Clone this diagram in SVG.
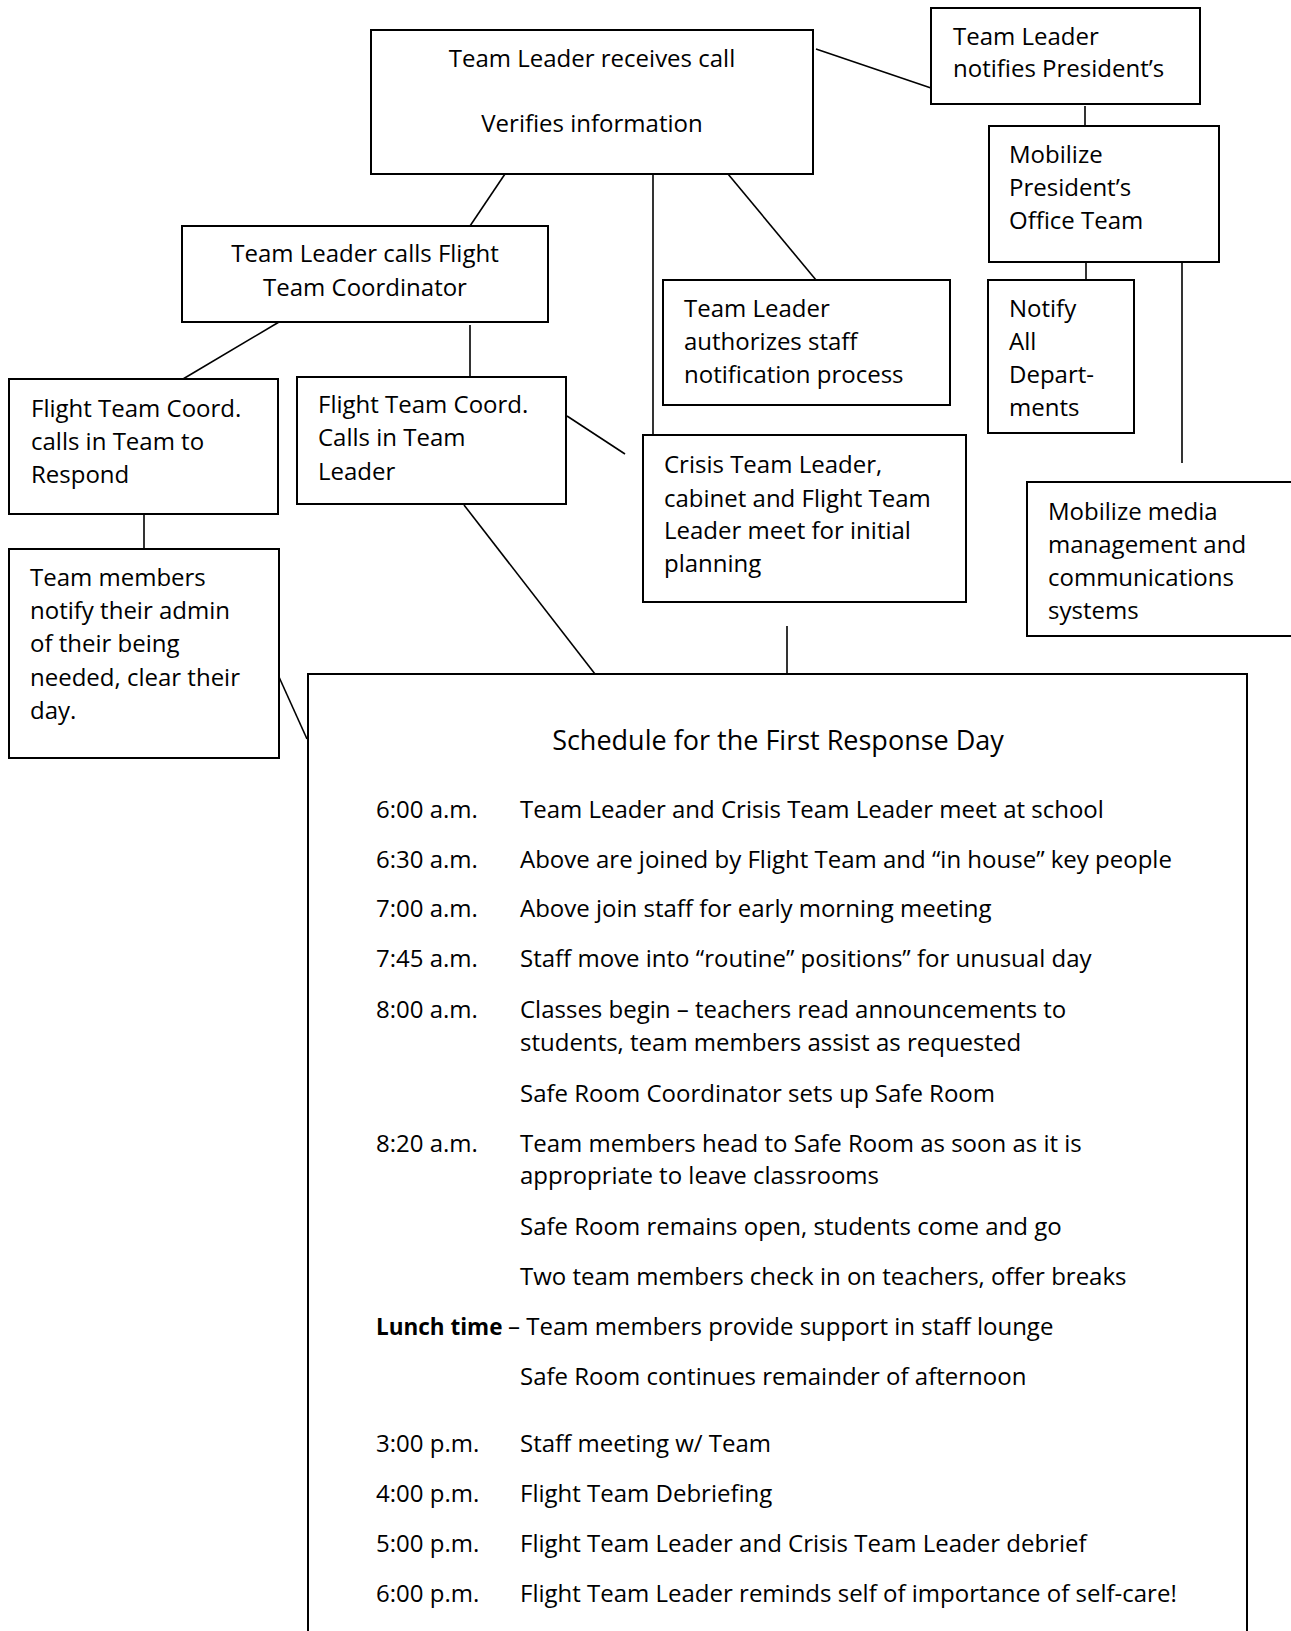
<svg xmlns="http://www.w3.org/2000/svg" width="1291" height="1631" viewBox="0 0 1291 1631">
<style>
.box{fill:#fff;stroke:#000;stroke-width:2}
.t{font-family:"Open Sans","DejaVu Sans",sans-serif;font-size:24px;fill:#000}
.c{text-anchor:middle}
.ttl{font-size:27px}
.b{font-weight:bold}
#connectors line{stroke:#000;stroke-width:1.6}
</style>
<rect width="1291" height="1631" fill="#fff"/>
<g id="connectors">
<line x1="816" y1="49" x2="931" y2="88"/>
<line x1="1085" y1="106" x2="1085" y2="126"/>
<line x1="1086" y1="262" x2="1086" y2="280"/>
<line x1="1182" y1="262" x2="1182" y2="463"/>
<line x1="509" y1="168" x2="470" y2="226"/>
<line x1="653" y1="174" x2="653" y2="435"/>
<line x1="728" y1="174" x2="816" y2="280"/>
<line x1="279" y1="322" x2="183" y2="379"/>
<line x1="470" y1="325" x2="470" y2="377"/>
<line x1="567" y1="416" x2="625" y2="454"/>
<line x1="144" y1="514" x2="144" y2="549"/>
<line x1="279" y1="677" x2="307" y2="739"/>
<line x1="464" y1="505" x2="595" y2="674"/>
<line x1="787" y1="626" x2="787" y2="674"/>
</g>
<g id="n1">
<rect class="box" x="371" y="30" width="442" height="144"/>
<text class="t c" x="592" y="67">Team Leader receives call</text>
<text class="t c" x="592" y="132">Verifies information</text>
</g>
<g id="n2">
<rect class="box" x="931" y="8" width="269" height="96"/>
<text class="t" x="953" y="45">Team Leader</text>
<text class="t" x="953" y="77">notifies President’s</text>
</g>
<g id="n3">
<rect class="box" x="989" y="126" width="230" height="136"/>
<text class="t" x="1009" y="163">Mobilize</text>
<text class="t" x="1009" y="196">President’s</text>
<text class="t" x="1009" y="229">Office Team</text>
</g>
<g id="n4">
<rect class="box" x="182" y="226" width="366" height="96"/>
<text class="t c" x="365" y="262">Team Leader calls Flight</text>
<text class="t c" x="365" y="296">Team Coordinator</text>
</g>
<g id="n5">
<rect class="box" x="663" y="280" width="287" height="125"/>
<text class="t" x="684" y="317">Team Leader</text>
<text class="t" x="684" y="350">authorizes staff</text>
<text class="t" x="684" y="383">notification process</text>
</g>
<g id="n6">
<rect class="box" x="988" y="280" width="146" height="153"/>
<text class="t" x="1009" y="317">Notify</text>
<text class="t" x="1009" y="350">All</text>
<text class="t" x="1009" y="383">Depart-</text>
<text class="t" x="1009" y="416">ments</text>
</g>
<g id="n7">
<rect class="box" x="9" y="379" width="269" height="135"/>
<text class="t" x="31" y="417">Flight Team Coord.</text>
<text class="t" x="31" y="450">calls in Team to</text>
<text class="t" x="31" y="483">Respond</text>
</g>
<g id="n8">
<rect class="box" x="297" y="377" width="269" height="127"/>
<text class="t" x="318" y="413">Flight Team Coord.</text>
<text class="t" x="318" y="446">Calls in Team</text>
<text class="t" x="318" y="480">Leader</text>
</g>
<g id="n9">
<rect class="box" x="643" y="435" width="323" height="167"/>
<text class="t" x="664" y="473">Crisis Team Leader,</text>
<text class="t" x="664" y="507">cabinet and Flight Team</text>
<text class="t" x="664" y="539">Leader meet for initial</text>
<text class="t" x="664" y="572">planning</text>
</g>
<g id="n10">
<rect class="box" x="1027" y="482" width="300" height="154"/>
<text class="t" x="1048" y="520">Mobilize media</text>
<text class="t" x="1048" y="553">management and</text>
<text class="t" x="1048" y="586">communications</text>
<text class="t" x="1048" y="619">systems</text>
</g>
<g id="n11">
<rect class="box" x="9" y="549" width="270" height="209"/>
<text class="t" x="30" y="586">Team members</text>
<text class="t" x="30" y="619">notify their admin</text>
<text class="t" x="30" y="652">of their being</text>
<text class="t" x="30" y="686">needed, clear their</text>
<text class="t" x="30" y="719">day.</text>
</g>
<g id="n12">
<rect class="box" x="308" y="674" width="939" height="1000"/>
<text class="t ttl c" x="778" y="750">Schedule for the First Response Day</text>
<text class="t" x="376" y="818">6:00 a.m.</text>
<text class="t" x="520" y="818">Team Leader and Crisis Team Leader meet at school</text>
<text class="t" x="376" y="868">6:30 a.m.</text>
<text class="t" x="520" y="868">Above are joined by Flight Team and “in house” key people</text>
<text class="t" x="376" y="917">7:00 a.m.</text>
<text class="t" x="520" y="917">Above join staff for early morning meeting</text>
<text class="t" x="376" y="967">7:45 a.m.</text>
<text class="t" x="520" y="967">Staff move into “routine” positions” for unusual day</text>
<text class="t" x="376" y="1018">8:00 a.m.</text>
<text class="t" x="520" y="1018">Classes begin – teachers read announcements to</text>
<text class="t" x="520" y="1051">students, team members assist as requested</text>
<text class="t" x="520" y="1102">Safe Room Coordinator sets up Safe Room</text>
<text class="t" x="376" y="1152">8:20 a.m.</text>
<text class="t" x="520" y="1152">Team members head to Safe Room as soon as it is</text>
<text class="t" x="520" y="1184">appropriate to leave classrooms</text>
<text class="t" x="520" y="1235">Safe Room remains open, students come and go</text>
<text class="t" x="520" y="1285">Two team members check in on teachers, offer breaks</text>
<text class="t" x="376" y="1335"><tspan class="b" style="font-size:22.5px">Lunch time</tspan><tspan x="508">– Team members provide support in staff lounge</tspan></text>
<text class="t" x="520" y="1385">Safe Room continues remainder of afternoon</text>
<text class="t" x="376" y="1452">3:00 p.m.</text>
<text class="t" x="520" y="1452">Staff meeting w/ Team</text>
<text class="t" x="376" y="1502">4:00 p.m.</text>
<text class="t" x="520" y="1502">Flight Team Debriefing</text>
<text class="t" x="376" y="1552">5:00 p.m.</text>
<text class="t" x="520" y="1552">Flight Team Leader and Crisis Team Leader debrief</text>
<text class="t" x="376" y="1602">6:00 p.m.</text>
<text class="t" x="520" y="1602">Flight Team Leader reminds self of importance of self-care!</text>
</g>
</svg>
